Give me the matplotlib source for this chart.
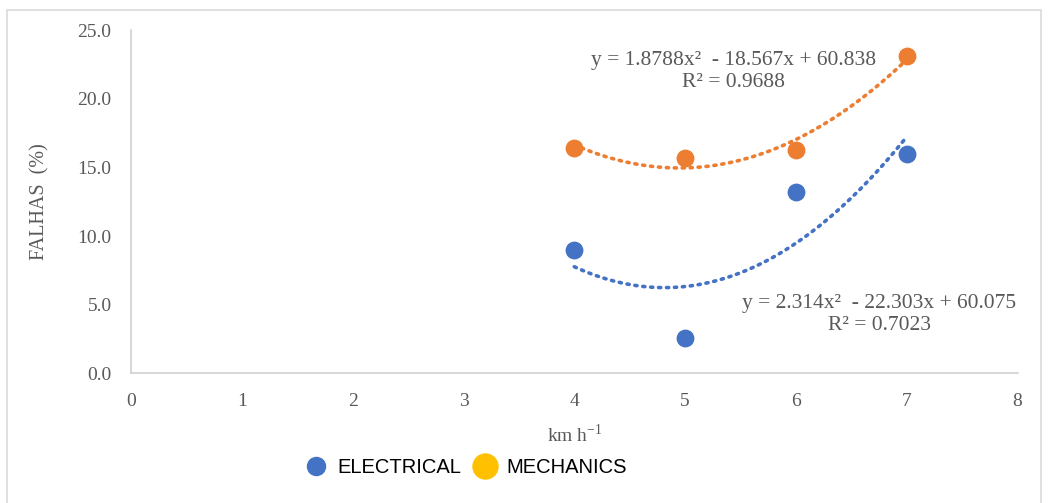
import numpy as np
import matplotlib.pyplot as plt
from matplotlib.lines import Line2D
from matplotlib.patches import Rectangle

# speeds (km/h) and failure rates (%)
speed = [4, 5, 6, 7]
electrical = [9.0, 2.6, 13.2, 16.0]
mechanics = [16.4, 15.7, 16.3, 23.1]

eq_electrical = "y = 2.314x²  - 22.303x + 60.075\nR² = 0.7023"
eq_mechanics = "y = 1.8788x²  - 18.567x + 60.838\nR² = 0.9688"

x_ticks = [0, 1, 2, 3, 4, 5, 6, 7, 8]
y_ticks = [0, 5, 10, 15, 20, 25]

blue = "#4472C4"
orange = "#ED7D31"
gold = "#FFC000"
grey = "#595959"

plt.rcParams["mathtext.fontset"] = "stix"

fig = plt.figure(figsize=(10.48, 5.03), dpi=100)
ax = fig.add_axes([0.125, 0.258, 0.846, 0.682])

# figure frame
fig.patches.append(Rectangle((0.007, -0.01), 0.986, 0.99, transform=fig.transFigure,
                             fill=False, edgecolor="#D9D9D9", linewidth=1.2))

# quadratic trend lines (dotted)
xs = np.linspace(min(speed), max(speed), 100)
for ys, col in [(electrical, blue), (mechanics, orange)]:
    coef = np.polyfit(speed, ys, 2)
    ax.plot(xs, np.polyval(coef, xs), color=col, linewidth=2.6,
            linestyle=(0, (0.6, 1.6)), dash_capstyle="round", zorder=2)

ax.scatter(speed, electrical, s=140, color=blue, zorder=3)
ax.scatter(speed, mechanics, s=140, color=orange, zorder=3)

ax.text(5.44, 22.0, eq_mechanics, ha="center", va="center", fontsize=15.5,
        color=grey, family="Liberation Serif", linespacing=1.2)
ax.text(6.75, 4.3, eq_electrical, ha="center", va="center", fontsize=15.5,
        color=grey, family="Liberation Serif", linespacing=1.2)

ax.set_xlim(0, 8)
ax.set_ylim(0, 25)
ax.set_xticks(x_ticks)
ax.set_yticks(y_ticks)
ax.set_yticklabels([f"{v:.1f}" for v in y_ticks])
ax.tick_params(length=0, labelsize=14, labelcolor=grey, pad=14)
for lab in ax.get_xticklabels() + ax.get_yticklabels():
    lab.set_family("Liberation Serif")

for s in ["top", "right"]:
    ax.spines[s].set_visible(False)
for s in ["left", "bottom"]:
    ax.spines[s].set_color("#D0D0D0")
    ax.spines[s].set_linewidth(1.2)

ax.set_ylabel("FALHAS  (%)", fontsize=14.5, color=grey, family="Liberation Serif", labelpad=20)
ax.set_xlabel("km h$^{\\mathregular{-1}}$", fontsize=14, color=grey, family="Liberation Serif",
              labelpad=10)

handles = [
    Line2D([], [], marker="o", linestyle="", markersize=13, color=blue),
    Line2D([], [], marker="o", linestyle="", markersize=18, color=gold),
]
fig.legend(handles, ["ELECTRICAL", "MECHANICS"], loc="center", bbox_to_anchor=(0.44, 0.07),
           ncol=2, frameon=False, handletextpad=0.05, columnspacing=0.2,
           prop={"family": "Liberation Sans", "size": 14.5})

fig.savefig("out.png", dpi=100)
